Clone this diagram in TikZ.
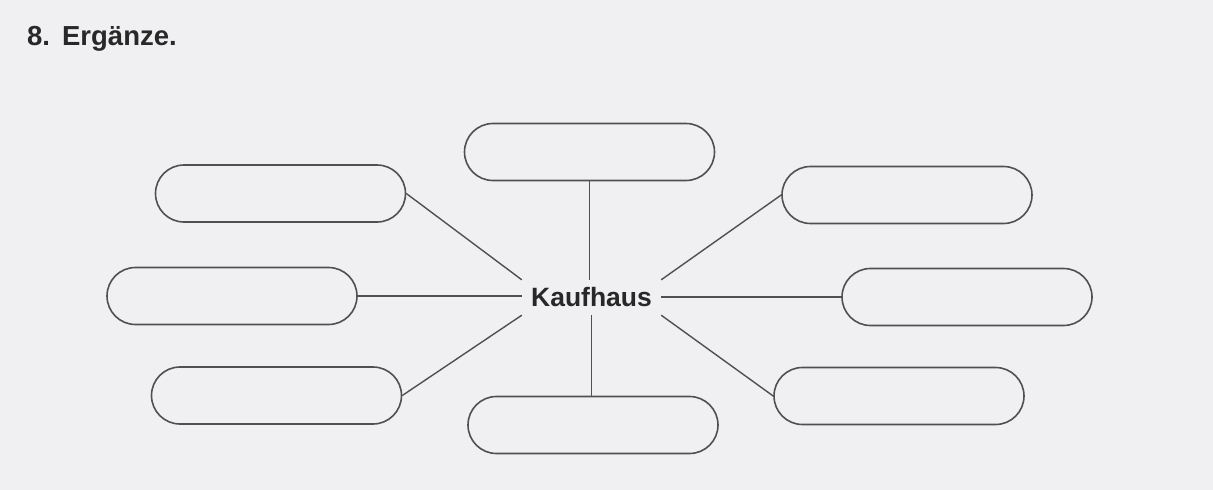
\documentclass[tikz,border=0pt]{standalone}
\usepackage{fontspec}
\setmainfont{Liberation Sans}
\definecolor{paper}{RGB}{240,240,242}
\definecolor{ink}{RGB}{40,40,40}
\definecolor{outline}{RGB}{80,80,84}
\definecolor{conn}{RGB}{80,80,80}
\begin{document}
\begin{tikzpicture}[x=1pt,y=-1pt,
  pill/.style={draw=outline,line width=1.6pt,rounded corners=28.5pt,minimum width=250pt,minimum height=57pt,inner sep=0pt},
  link/.style={draw=conn,line width=1.4pt},
  hub/.style={minimum width=139pt,minimum height=35pt,inner sep=0pt,font=\fontsize{26.5}{28}\selectfont\bfseries,text=ink}]
\fill[paper] (0,0) rectangle (1213,490);
\useasboundingbox (0,0) rectangle (1213,490);
\node[anchor=base west,font=\fontsize{27.5}{30}\selectfont\bfseries,text=ink,inner sep=0pt] (title) at (27,45) {8.\hspace{12pt}Ergänze.};
\node[hub] (K) at (591.5,297.5) {Kaufhaus};
\node[pill] (T)  at (589.5,152) {};
\node[pill] (UL) at (280.5,193.5) {};
\node[pill] (UR) at (907,195) {};
\node[pill] (ML) at (232,296) {};
\node[pill] (MR) at (967,297) {};
\node[pill] (LL) at (276.5,395.5) {};
\node[pill] (LR) at (899,396) {};
\node[pill] (B)  at (593,425) {};
\draw[link] (T.south) -- (T.south |- K.north);
\draw[link] (UL.east) -- (K.north west);
\draw[link] (UR.west) -- (K.north east);
\draw[link] (ML.east) -- (ML.east -| K.west);
\draw[link] (MR.west) -- (MR.west -| K.east);
\draw[link] (LL.east) -- (K.south west);
\draw[link] (LR.west) -- (K.south east);
\draw[link] (K.south) -- (K.south |- B.north);
\end{tikzpicture}
\end{document}
